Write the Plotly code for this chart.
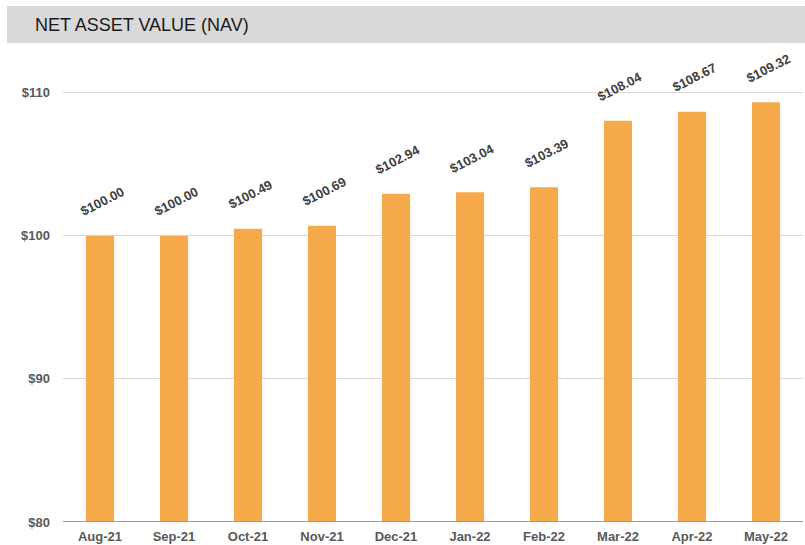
import plotly.graph_objects as go

months = ["Aug-21", "Sep-21", "Oct-21", "Nov-21", "Dec-21", "Jan-22", "Feb-22", "Mar-22", "Apr-22", "May-22"]
nav = [100.00, 100.00, 100.49, 100.69, 102.94, 103.04, 103.39, 108.04, 108.67, 109.32]
y_ticks = [80, 90, 100, 110]
y_tick_labels = ["$80", "$90", "$100", "$110"]
title_text = "NET ASSET VALUE (NAV)"

W, H = 805, 545
L, R, T, B = 63, 2, 64, 23
PW, PH = W - L - R, H - T - B

def px_x(px):
    return (px - L) / PW

def px_y(py):
    return (H - B - py) / PH

fig = go.Figure()
fig.add_trace(go.Bar(
    x=months, y=nav,
    marker=dict(color="#F6AA4C", line=dict(width=0)),
    hoverinfo="skip",
))

for m, v in zip(months, nav):
    fig.add_annotation(
        x=m, y=v, xref="x", yref="y",
        text="$%.2f" % v, showarrow=False,
        textangle=-27, yshift=34, xshift=2,
        font=dict(family="Liberation Sans, Arial", size=13, color="#404040", weight="bold"),
    )

fig.add_annotation(
    xref="paper", yref="paper", x=px_x(33), y=px_y(25),
    xanchor="left", yanchor="middle", text=title_text, showarrow=False,
    font=dict(family="Liberation Sans, Arial", size=18, color="#1a1a1a"),
)

fig.update_layout(
    width=W, height=H,
    margin=dict(l=L, r=R, t=T, b=B),
    plot_bgcolor="white", paper_bgcolor="white",
    showlegend=False,
    bargap=0.62,
    xaxis=dict(
        showgrid=False, ticks="", showline=False,
        ticklabelstandoff=5,
        tickfont=dict(family="Liberation Sans, Arial", size=13, color="#595959", weight="bold"),
    ),
    yaxis=dict(
        range=[80, 112], tickvals=y_ticks, ticktext=y_tick_labels,
        showgrid=True, gridcolor="#D9D9D9", gridwidth=1,
        zeroline=False, showline=False, ticks="",
        ticklabelstandoff=12,
        tickfont=dict(family="Liberation Sans, Arial", size=13, color="#595959", weight="bold"),
    ),
    shapes=[
        dict(type="rect", xref="paper", yref="paper", layer="above",
             x0=px_x(7), x1=px_x(805), y0=px_y(43), y1=px_y(6),
             fillcolor="#D9D9D9", line=dict(width=0)),
        dict(type="line", xref="paper", yref="y", x0=0, x1=1, y0=80, y1=80,
             line=dict(color="#F08A00", width=2)),
    ],
)

fig.write_html("out.html", config={"displayModeBar": False},
               post_script="document.body.style.margin='0';")
